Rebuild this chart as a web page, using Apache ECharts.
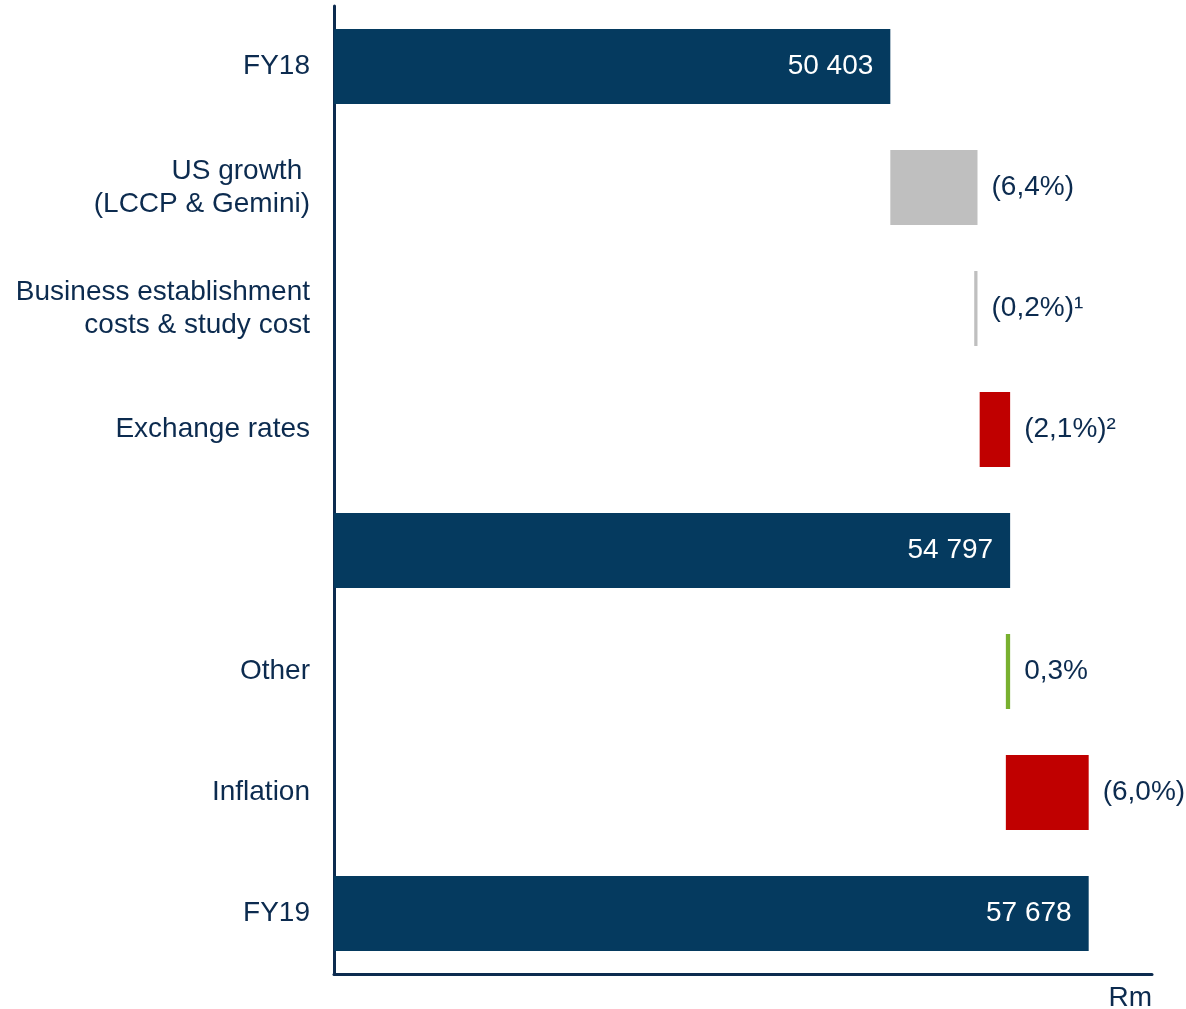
<!DOCTYPE html>
<html>
<head>
<meta charset="utf-8">
<script src="https://cdn.jsdelivr.net/npm/echarts@6/dist/echarts.min.js"></script>
<style>
  html, body { margin: 0; padding: 0; background: #fff; }
  #chart { width: 1186px; height: 1009px; }
</style>
</head>
<body>
<div id="chart"></div>
<script>
// categories, top to bottom
const categories = ['FY18', 'US growth \n(LCCP & Gemini)', 'Business establishment\ncosts & study cost',
  'Exchange rates', '', 'Other', 'Inflation', 'FY19']
// where each bar starts and ends (Rm)
const barFrom = [0, 50403, 53480, 53680, 0, 54640, 54640, 0]
const barTo = [50403, 53600, 53600, 54797, 54797, 54797, 57678, 57678]
// which kind of bar: total / growth / cost / fx / other
const barKind = ['total', 'growth', 'cost', 'fx', 'total', 'other', 'fx', 'total']
const changeLabels = ['', '(6,4%)', '(0,2%)¹', '(2,1%)²', '', '0,3%', '(6,0%)', '']

const NAVY = '#053a5f'
const TEXT = '#0c2b4f'
const kindColor = { total: NAVY, growth: '#bfbfbf', cost: '#bfbfbf', fx: '#c00000', other: '#78b02f' }
const FONT = '"Liberation Sans", Arial, sans-serif'

const fmt = v => String(v).replace(/\B(?=(\d{3})+(?!\d))/g, ' ')

const chart = echarts.init(document.getElementById('chart'))

const visible = categories.map((c, i) => {
  const isTotal = barKind[i] === 'total'
  return {
    value: barTo[i] - barFrom[i],
    itemStyle: { color: kindColor[barKind[i]] },
    label: isTotal
      ? { show: true, position: 'insideRight', distance: 17, color: '#fff', formatter: fmt(barTo[i]) }
      : { show: true, position: 'right', distance: 14, color: TEXT, formatter: changeLabels[i] }
  }
})

chart.setOption({
  animation: false,
  textStyle: { fontFamily: FONT },
  grid: { left: 334, right: 34, top: 6, bottom: 35, containLabel: false },
  xAxis: {
    type: 'value',
    min: 30000,
    max: 60000,
    axisLine: { show: true, lineStyle: { color: TEXT, width: 3 } },
    axisTick: { show: false },
    axisLabel: { show: false },
    splitLine: { show: false }
  },
  yAxis: {
    type: 'category',
    inverse: true,
    data: categories,
    axisLine: { show: true, lineStyle: { color: TEXT, width: 3 } },
    axisTick: { show: false },
    axisLabel: {
      color: TEXT,
      fontSize: 28,
      lineHeight: 33,
      margin: 24,
      padding: [3, 0, 0, 0],
      fontFamily: FONT,
      align: 'right'
    }
  },
  graphic: [{
    type: 'text',
    right: 34,
    top: 984,
    style: { text: 'Rm', fill: TEXT, fontSize: 28, fontFamily: FONT }
  }],
  series: [
    {
      type: 'bar',
      stack: 'w',
      barWidth: 75,
      silent: true,
      itemStyle: { color: 'transparent' },
      data: barFrom
    },
    {
      type: 'bar',
      stack: 'w',
      barWidth: 75,
      label: { fontSize: 28, fontFamily: FONT, padding: [2, 0, 0, 0] },
      data: visible
    }
  ]
})
</script>
</body>
</html>
